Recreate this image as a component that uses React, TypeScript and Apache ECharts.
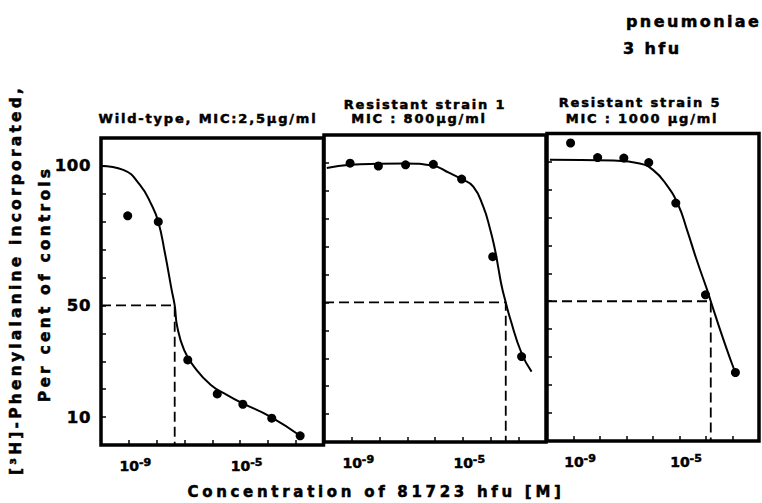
import React, { useEffect, useRef } from "react";
import * as echarts from "echarts";

// ---- data (concentrations as log10 exponents, values in % of controls) ----
const X_LABEL_EXPS = [-9, -5];
const Y_LABELS = [10, 50, 100];

// Wild-type
const wtDotExp = [-9.04, -7.94, -6.88, -5.82, -4.9, -3.86, -2.84];
const wtDotVal = [82.1, 80, 30.5, 18.3, 14.6, 9.6, 3.3];
const wtCurveExp = [-10, -9.2, -8.6, -8.18, -7.94, -7.7, -7.46, -7.35, -7.26, -7.01, -6.65, -6.05, -5.46, -4.94, -3.9, -2.84];
const wtCurveVal = [100, 98.6, 93.2, 86, 80, 68.7, 55.6, 50, 42.4, 34, 28, 21.5, 17.9, 15.1, 10.1, 3.3];
const wtIC50Exp = -7.35;

// Resistant strain 1
const r1DotExp = [-9.06, -8.04, -7.06, -6.06, -5.04, -3.92, -2.88];
const r1DotVal = [99.9, 98.9, 99.3, 99.5, 94.2, 66.4, 30.6];
const r1CurveExp = [-9.9, -9.06, -8.05, -7.08, -6.07, -5.5, -5.04, -4.62, -4.26, -4.02, -3.84, -3.72, -3.6, -3.45, -3.3, -2.88, -2.52];
const r1CurveVal = [98.2, 99.3, 99.7, 99.8, 99, 96.5, 94.2, 91.5, 84.3, 76.5, 69, 62.5, 56, 50, 44.5, 31.8, 25.2];
const r1IC50Exp = -3.45;

// Resistant strain 5
const r5DotExp = [-9.11, -8.09, -7.1, -6.16, -5.14, -4.02, -2.89];
const r5DotVal = [106.6, 101.4, 101.2, 99.6, 85.1, 52.3, 24.5];
const r5CurveExp = [-9.89, -7.5, -6.5, -6.0, -5.5, -5.05, -4.72, -4.36, -3.94, -3.82, -3.39, -3.03, -2.89];
const r5CurveVal = [100.6, 100.3, 99.3, 97, 91.8, 84.5, 75.6, 65, 53.6, 50, 37.6, 27.9, 24.5];
const r5IC50Exp = -3.82;

const HALF = 50;
const X_MIN = 1e-10;
const X_MAX = 1e-2;

const FONT = "DejaVu Sans";

const CSS = `
html, body { margin: 0; padding: 0; background: #fff; }
svg text { stroke: #000; stroke-width: 0.5px; }
text[style*="13px"] { letter-spacing: 1.8px; }
text[style*="15px"] { letter-spacing: 3.7px; }
text[style*="15.5px"] { letter-spacing: 3.2px; }
text[style*="16px"] { letter-spacing: 2.4px; }
text[style*="16.5px"] { letter-spacing: 0.6px; }
`;

const pts = (exps: number[], vals: number[]) =>
  exps.map((e, i) => [Math.pow(10, e), vals[i]]);

const dashed = (icExp: number) => [
  [X_MIN, HALF],
  [Math.pow(10, icExp), HALF],
  [Math.pow(10, icExp), 0],
];

const panels = [
  { dotE: wtDotExp, dotV: wtDotVal, curE: wtCurveExp, curV: wtCurveVal, ic: wtIC50Exp },
  { dotE: r1DotExp, dotV: r1DotVal, curE: r1CurveExp, curV: r1CurveVal, ic: r1IC50Exp },
  { dotE: r5DotExp, dotV: r5DotVal, curE: r5CurveExp, curV: r5CurveVal, ic: r5IC50Exp },
];

const gridBase = {
  show: true,
  borderColor: "#000",
  borderWidth: 3.5,
  backgroundColor: "transparent",
  containLabel: false,
};

function text(x: number, y: number, t: string, size: number, align = "center", rotation = 0) {
  return {
    type: "text",
    x,
    y,
    rotation,
    style: {
      text: t,
      fontSize: size,
      fontWeight: "bold",
      fontFamily: FONT,
      fill: "#000",
      align,
      verticalAlign: "middle",
      textAlign: align,
      textVerticalAlign: "middle",
    },
  };
}

function buildOption() {
  const grid = [
    { ...gridBase, left: 101, top: 138, width: 222.5, height: 307 },
    { ...gridBase, left: 324, top: 135, width: 222, height: 307 },
    { ...gridBase, left: 547, top: 133.5, width: 222, height: 307.5 },
  ];

  const xAxis = [0, 1, 2].map((i) => ({
    type: "log",
    logBase: 10,
    gridIndex: i,
    min: X_MIN,
    max: X_MAX,
    splitNumber: 8,
    axisLine: { show: false },
    axisTick: { show: true, inside: true, length: 5, lineStyle: { color: "#000", width: 1.5 } },
    minorTick: { show: false },
    splitLine: { show: false },
    axisLabel: {
      margin: 12,
      color: "#000",
      formatter: (v: number) => {
        const e = Math.round(Math.log10(v));
        return X_LABEL_EXPS.includes(e) ? `{p| }{b|10}{s|${e}}` : "";
      },
      rich: {
        p: { width: 13, fontSize: 11 },
        b: { fontSize: 14, fontWeight: "bold", fontFamily: FONT, color: "#000", lineHeight: 17 },
        s: { fontSize: 11, fontWeight: "bold", fontFamily: FONT, color: "#000", verticalAlign: "top", lineHeight: 11 },
      },
    },
  }));

  const yAxis = [0, 1, 2].map((i) => ({
    type: "value",
    gridIndex: i,
    min: 0,
    max: 110,
    interval: 10,
    axisLine: { show: false },
    axisTick: { show: true, inside: true, length: 5, lineStyle: { color: "#000", width: 1.5 } },
    splitLine: { show: false },
    axisLabel: {
      show: i === 0,
      margin: 10,
      color: "#000",
      fontSize: 16.5,
      fontWeight: "bold",
      fontFamily: FONT,
      formatter: (v: number) => (Y_LABELS.includes(v) ? String(v) : ""),
    },
  }));

  const series: any[] = [];
  panels.forEach((p, i) => {
    series.push({
      type: "line",
      xAxisIndex: i,
      yAxisIndex: i,
      data: dashed(p.ic),
      showSymbol: false,
      symbol: "none",
      lineStyle: { color: "#000", width: 1.8, type: [10, 5] },
      z: 2,
    });
    series.push({
      type: "line",
      xAxisIndex: i,
      yAxisIndex: i,
      data: pts(p.curE, p.curV),
      smooth: 0.5,
      showSymbol: false,
      symbol: "none",
      lineStyle: { color: "#000", width: 2 },
      z: 3,
    });
    series.push({
      type: "scatter",
      xAxisIndex: i,
      yAxisIndex: i,
      data: pts(p.dotE, p.dotV),
      symbol: "circle",
      symbolSize: 9,
      itemStyle: { color: "#000", opacity: 1 },
      z: 4,
    });
  });

  const graphic = [
    text(626, 21, "pneumoniae", 16, "left"),
    text(623, 48, "3 hfu", 16, "left"),
    text(208, 118, "Wild-type, MIC:2,5µg/ml", 13),
    text(425, 104, "Resistant strain 1", 13),
    text(419, 118, "MIC : 800µg/ml", 13),
    text(640, 102, "Resistant strain 5", 13),
    text(642, 118, "MIC : 1000 µg/ml", 13),
    text(376, 492, "Concentration of 81723 hfu [M]", 15),
    text(16, 280, "[³H]-Phenylalanine incorporated,", 15.5, "center", Math.PI / 2),
    text(45, 284, "Per cent of controls", 15.5, "center", Math.PI / 2),
  ];

  return {
    animation: false,
    backgroundColor: "#fff",
    grid,
    xAxis,
    yAxis,
    series,
    graphic,
  };
}

export default function App() {
  const ref = useRef<HTMLDivElement>(null);
  useEffect(() => {
    if (!ref.current) return;
    const chart = echarts.init(ref.current, null, { renderer: "svg" });
    chart.setOption(buildOption() as any);
    return () => chart.dispose();
  }, []);
  return (
    <>
      <style>{CSS}</style>
      <div
        ref={ref}
        style={{ position: "absolute", left: 0, top: 0, width: 762, height: 503, background: "#fff" }}
      />
    </>
  );
}
